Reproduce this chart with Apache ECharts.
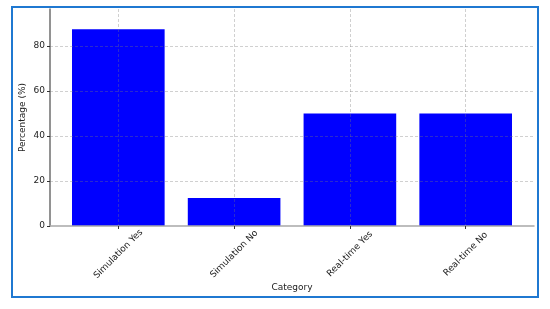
<!DOCTYPE html>
<html>
<head>
<meta charset="utf-8">
<script src="https://cdn.jsdelivr.net/npm/echarts@6/dist/echarts.min.js"></script>
<style>
html,body{margin:0;padding:0;background:#fff;}
#chart{position:absolute;left:0;top:0;width:550px;height:309px;}
#frame{position:absolute;left:11px;top:6px;width:524px;height:288px;border:2px solid #1f78d1;pointer-events:none;}
</style>
</head>
<body>
<div id="chart"></div>
<div id="frame"></div>
<script>
var categories=['Simulation Yes','Simulation No','Real-time Yes','Real-time No'];
var percentages=[87.5,12.5,50,50];
var yTicks=[0,20,40,60,80];

// plot box
var GRID_L=50, GRID_R=16, GRID_T=9, GRID_B=83;
var XMIN=-0.59, XMAX=categories.length-1+0.59;
var plotW=550-GRID_L-GRID_R;
var barW=0.8*plotW/(XMAX-XMIN);

var myChart=echarts.init(document.getElementById('chart'));
var font='DejaVu Sans';
var gridLine={show:true,showMinLine:false,showMaxLine:false,lineStyle:{color:'rgba(120,120,120,0.35)',type:[3,2],width:1}};
var option={
    animation:false,
    textStyle:{fontFamily:font},
    grid:{left:GRID_L,right:GRID_R,top:GRID_T,bottom:GRID_B},
    xAxis:{
        type:'value',
        min:XMIN,max:XMAX,
        minInterval:1,maxInterval:1,
        z:5,
        name:'Category',
        nameLocation:'middle',
        nameGap:57,
        nameMoveOverlap:false,
        nameTextStyle:{fontSize:9,color:'#222',fontFamily:font},
        axisLine:{show:true,onZero:false,lineStyle:{color:'#a8a8a8',width:1.5}},
        axisTick:{show:true,length:3,lineStyle:{color:'#333'}},
        axisLabel:{
            rotate:45,align:'center',verticalAlign:'middle',margin:28,
            fontSize:9,color:'#222',fontFamily:font,
            showMinLabel:false,showMaxLabel:false,
            formatter:function(v){
                return (Math.abs(v-Math.round(v))<1e-6 && categories[Math.round(v)])?categories[Math.round(v)]:'';
            }
        },
        splitLine:gridLine
    },
    yAxis:{
        type:'value',
        min:yTicks[0],max:96.5,interval:20,
        z:5,
        name:'Percentage (%)',
        nameLocation:'middle',
        nameGap:23,
        nameMoveOverlap:false,
        nameTextStyle:{fontSize:9,color:'#222',fontFamily:font},
        axisLine:{show:true,onZero:false,lineStyle:{color:'#6e6e6e',width:1.5}},
        axisTick:{show:true,length:3,lineStyle:{color:'#333'}},
        axisLabel:{fontSize:9,color:'#222',margin:5,showMaxLabel:false,fontFamily:font},
        splitLine:gridLine
    },
    series:[{
        type:'bar',
        barWidth:barW,
        itemStyle:{color:'#0000ff'},
        data:categories.map(function(c,i){return [i,percentages[i]];})
    }]
};
myChart.setOption(option);
</script>
</body>
</html>
